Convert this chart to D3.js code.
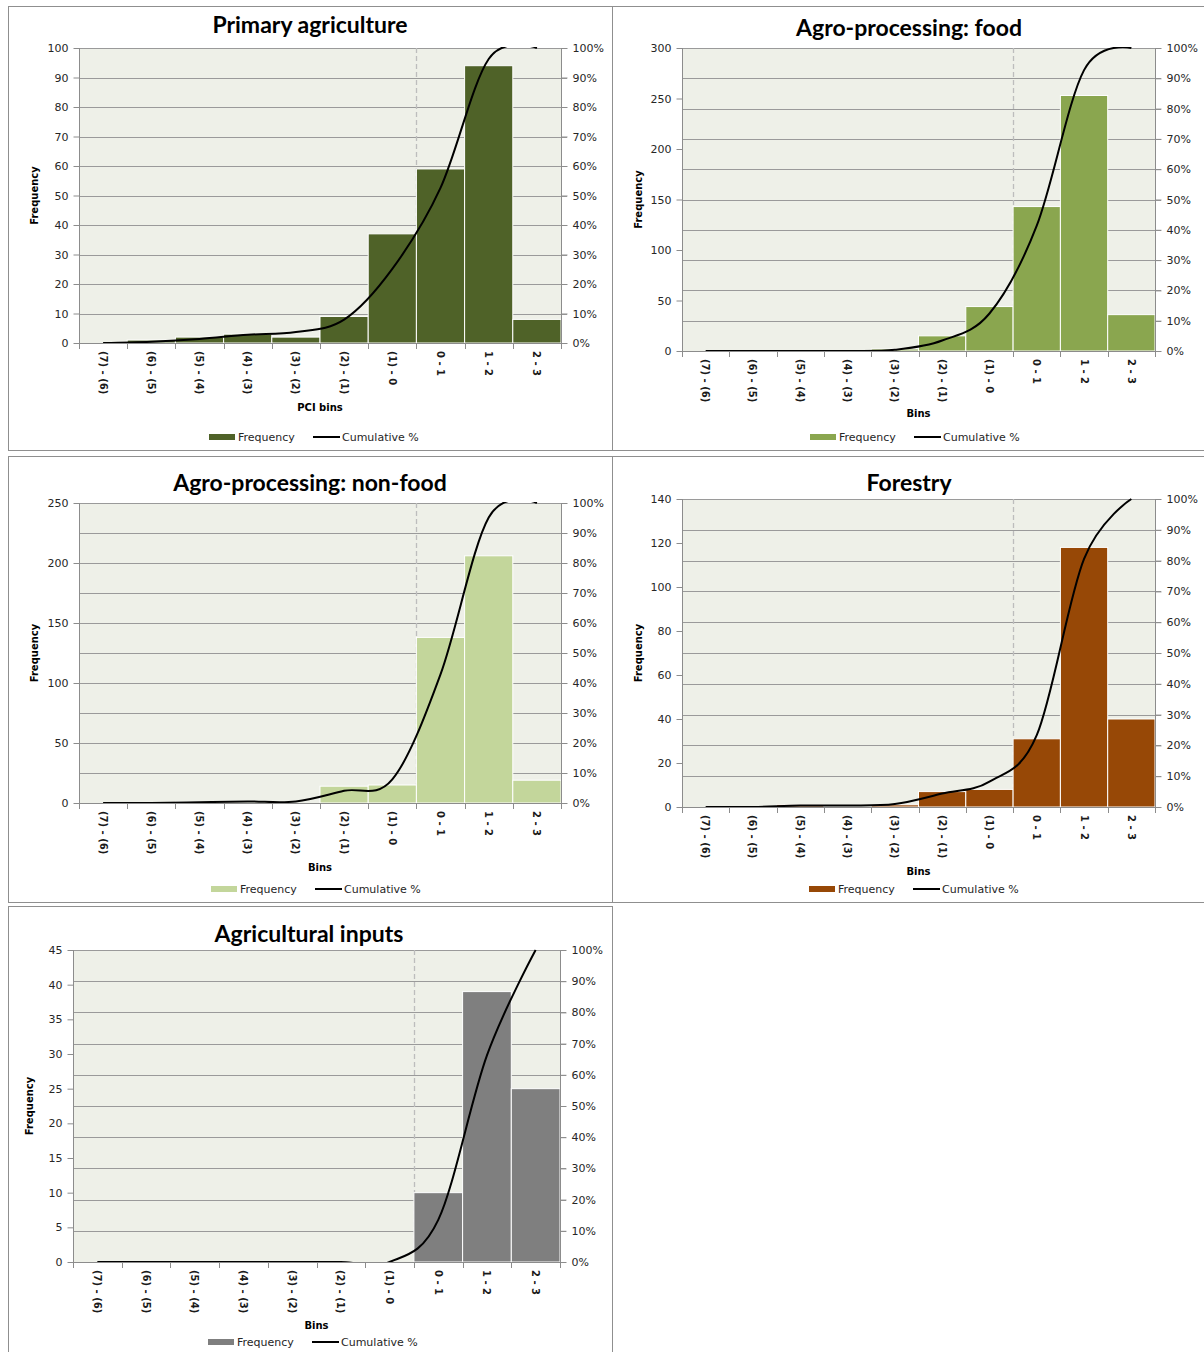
<!DOCTYPE html>
<html>
<head>
<meta charset="utf-8">
<script src="https://cdn.jsdelivr.net/npm/d3@7"></script>
<style>
  body { margin: 0; background: #fff; }
  svg { display: block; }
</style>
</head>
<body>
<script>
// PCI bins shared by every sector histogram
const bins = ["(7) - (6)", "(6) - (5)", "(5) - (4)", "(4) - (3)", "(3) - (2)",
              "(2) - (1)", "(1) - 0", "0 - 1", "1 - 2", "2 - 3"];

// Product counts per bin, one series per sector
const primaryAgriculture    = [0, 1, 2, 3, 2, 9, 37, 59, 94, 8];
const agroProcessingFood    = [0, 0, 0, 0, 2, 15, 44, 143, 253, 36];
const agroProcessingNonFood = [0, 0, 1, 1, 0, 14, 15, 138, 206, 19];
const forestry              = [0, 0, 1, 0, 1, 7, 8, 31, 118, 40];
const agriculturalInputs    = [0, 0, 0, 0, 0, 0, 0, 10, 39, 25];

const sectorTitles = ["Primary agriculture", "Agro-processing: food",
                      "Agro-processing:  non-food", "Forestry", "Agricultural inputs"];
const xAxisTitles = ["PCI bins", "Bins", "Bins", "Bins", "Bins"];
const yAxisTitle = "Frequency";
const legendLabels = ["Frequency", "Cumulative %"];

// Left (frequency) axis ticks for each sector
const frequencyTicks = [
  [0, 10, 20, 30, 40, 50, 60, 70, 80, 90, 100],
  [0, 50, 100, 150, 200, 250, 300],
  [0, 50, 100, 150, 200, 250],
  [0, 20, 40, 60, 80, 100, 120, 140],
  [0, 5, 10, 15, 20, 25, 30, 35, 40, 45]
];
// Right (cumulative share) axis ticks
const percentTicks = [0, 10, 20, 30, 40, 50, 60, 70, 80, 90, 100];
// Bin whose left edge marks PCI = 0
const zeroBin = "0 - 1";

const seriesList = [primaryAgriculture, agroProcessingFood, agroProcessingNonFood, forestry, agriculturalInputs];
const barColors = ["#4F6228", "#8AA64F", "#C3D69B", "#974806", "#7F7F7F"];

// Panel geometry
const panels = [
  { frame: [8, 6, 604, 444],   plot: [79, 48, 561, 343],    titleX: 310, titleY: 24,  ytX: 34,  xtY: 407,  legY: 437,  legX: 209 },
  { frame: [612, 6, 600, 444], plot: [682, 48, 1155, 351],  titleX: 909, titleY: 27,  ytX: 638, xtY: 413,  legY: 437,  legX: 810 },
  { frame: [8, 456, 604, 446], plot: [79, 503, 561, 803],   titleX: 310, titleY: 482, ytX: 34,  xtY: 867,  legY: 889,  legX: 211 },
  { frame: [612, 456, 600, 446], plot: [682, 499, 1155, 807], titleX: 909, titleY: 482, ytX: 638, xtY: 871, legY: 889, legX: 809 },
  { frame: [8, 906, 604, 460], plot: [73, 950, 560, 1262],  titleX: 309, titleY: 933, ytX: 29,  xtY: 1325, legY: 1342, legX: 208 }
];

const W = 1204, H = 1352;
const svg = d3.select("body").append("svg").attr("width", W).attr("height", H);

const tickFont = "'DejaVu Sans', Verdana, sans-serif";
const titleFont = "Lato, 'Open Sans', sans-serif";
const gridColor = "#9a9a9a";
const axisColor = "#8c8c8c";

panels.forEach((p, i) => {
  const data = seriesList[i];
  const [l, t, r, b] = p.plot;
  const g = svg.append("g");

  // panel frame
  g.append("rect")
    .attr("x", p.frame[0] + 0.5).attr("y", p.frame[1] + 0.5)
    .attr("width", p.frame[2]).attr("height", p.frame[3])
    .attr("fill", "none").attr("stroke", "#8f8f8f").attr("stroke-width", 1);

  const x = d3.scaleBand().domain(bins).range([l, r]).padding(0);
  const yMax = frequencyTicks[i][frequencyTicks[i].length - 1];
  const y = d3.scaleLinear().domain([0, yMax]).range([b, t]);
  const yPct = d3.scaleLinear().domain([0, 100]).range([b, t]);

  const total = d3.sum(data);
  const cumulative = Array.from(d3.cumsum(data), v => v / total * 100);

  // plot background
  g.append("rect").attr("x", l).attr("y", t).attr("width", r - l).attr("height", b - t)
    .attr("fill", "#EEF0E8");

  // horizontal gridlines follow the percentage axis
  g.append("g").selectAll("line").data(percentTicks).join("line")
    .attr("x1", l).attr("x2", r + 6)
    .attr("y1", d => Math.round(yPct(d)) + 0.5).attr("y2", d => Math.round(yPct(d)) + 0.5)
    .attr("stroke", gridColor).attr("stroke-width", 1.2);

  // dashed marker at PCI = 0
  const zx = Math.round(x(zeroBin)) + 0.5;
  g.append("line").attr("x1", zx).attr("x2", zx).attr("y1", t).attr("y2", b)
    .attr("stroke", "#bdbdbd").attr("stroke-width", 1.3).attr("stroke-dasharray", "5,3");

  // frequency bars
  g.append("g").selectAll("rect").data(data).join("rect")
    .attr("x", (d, k) => x(bins[k]))
    .attr("width", x.bandwidth())
    .attr("y", d => y(d))
    .attr("height", d => b - y(d))
    .attr("fill", barColors[i])
    .attr("stroke", d => d > 0 ? "#ffffff" : "none")
    .attr("stroke-width", 1);

  // axis lines
  g.append("line").attr("x1", l + 0.5).attr("x2", l + 0.5).attr("y1", t).attr("y2", b + 6)
    .attr("stroke", axisColor);
  g.append("line").attr("x1", r + 0.5).attr("x2", r + 0.5).attr("y1", t).attr("y2", b + 6)
    .attr("stroke", axisColor);
  g.append("line").attr("x1", l).attr("x2", r).attr("y1", Math.round(b) + 0.5).attr("y2", Math.round(b) + 0.5)
    .attr("stroke", axisColor);

  // left axis
  const leftAxis = g.append("g").attr("transform", `translate(${l + 0.5},0)`)
    .call(d3.axisLeft(y).tickValues(frequencyTicks[i]).tickSize(6).tickPadding(5).tickSizeOuter(0));
  leftAxis.select(".domain").remove();
  leftAxis.selectAll(".tick line").attr("stroke", axisColor);
  leftAxis.selectAll(".tick text").attr("font-family", tickFont).attr("font-size", 11).attr("fill", "#262626");

  // right axis labels
  const rightAxis = g.append("g").attr("transform", `translate(${r + 0.5},0)`)
    .call(d3.axisRight(yPct).tickValues(percentTicks).tickSize(6).tickPadding(5).tickSizeOuter(0)
      .tickFormat(d => d + "%"));
  rightAxis.select(".domain").remove();
  rightAxis.selectAll(".tick line").attr("stroke", axisColor);
  rightAxis.selectAll(".tick text").attr("font-family", tickFont).attr("font-size", 11).attr("fill", "#262626");

  // category boundary ticks
  const edges = bins.map(c => x(c)).concat([r]);
  g.append("g").selectAll("line").data(edges).join("line")
    .attr("x1", d => Math.round(d) + 0.5).attr("x2", d => Math.round(d) + 0.5)
    .attr("y1", b).attr("y2", b + 6).attr("stroke", axisColor);

  // category labels, rotated
  g.append("g").selectAll("text").data(bins).join("text")
    .attr("transform", d => `translate(${x(d) + x.bandwidth() / 2},${b + 8}) rotate(90)`)
    .attr("dominant-baseline", "central")
    .attr("font-family", tickFont).attr("font-weight", "bold").attr("font-size", 10)
    .attr("fill", "#1a1a1a")
    .text(d => d);

  // cumulative share line, clipped to the plot area
  const clipId = "clip" + i;
  svg.append("clipPath").attr("id", clipId)
    .append("rect").attr("x", l).attr("y", t - 1).attr("width", r - l).attr("height", b - t + 1);
  const line = d3.line()
    .x((d, k) => x(bins[k]) + x.bandwidth() / 2)
    .y(d => yPct(d))
    .curve(d3.curveCardinal.tension(0));
  g.append("path").attr("d", line(cumulative)).attr("clip-path", `url(#${clipId})`)
    .attr("fill", "none").attr("stroke", "#000").attr("stroke-width", 2);

  // titles
  g.append("text").attr("x", p.titleX).attr("y", p.titleY)
    .attr("text-anchor", "middle").attr("dominant-baseline", "central")
    .attr("font-family", titleFont).attr("font-weight", "bold").attr("font-size", 23)
    .attr("fill", "#000").text(sectorTitles[i]);

  g.append("text")
    .attr("transform", `translate(${p.ytX},${(t + b) / 2}) rotate(-90)`)
    .attr("text-anchor", "middle").attr("dominant-baseline", "central")
    .attr("font-family", tickFont).attr("font-weight", "bold").attr("font-size", 10)
    .attr("fill", "#000").text(yAxisTitle);

  g.append("text").attr("x", (l + r) / 2).attr("y", p.xtY)
    .attr("text-anchor", "middle").attr("dominant-baseline", "central")
    .attr("font-family", tickFont).attr("font-weight", "bold").attr("font-size", 10)
    .attr("fill", "#000").text(xAxisTitles[i]);

  // legend
  const lg = g.append("g").attr("transform", `translate(${p.legX},${p.legY})`);
  lg.append("rect").attr("x", 0).attr("y", -3).attr("width", 26).attr("height", 6).attr("fill", barColors[i]);
  lg.append("text").attr("x", 29).attr("y", 0).attr("dominant-baseline", "central")
    .attr("font-family", tickFont).attr("font-size", 11).attr("fill", "#262626").text(legendLabels[0]);
  lg.append("line").attr("x1", 104).attr("x2", 131).attr("y1", 0).attr("y2", 0)
    .attr("stroke", "#000").attr("stroke-width", 2);
  lg.append("text").attr("x", 133).attr("y", 0).attr("dominant-baseline", "central")
    .attr("font-family", tickFont).attr("font-size", 11).attr("fill", "#262626").text(legendLabels[1]);
});
</script>
</body>
</html>
